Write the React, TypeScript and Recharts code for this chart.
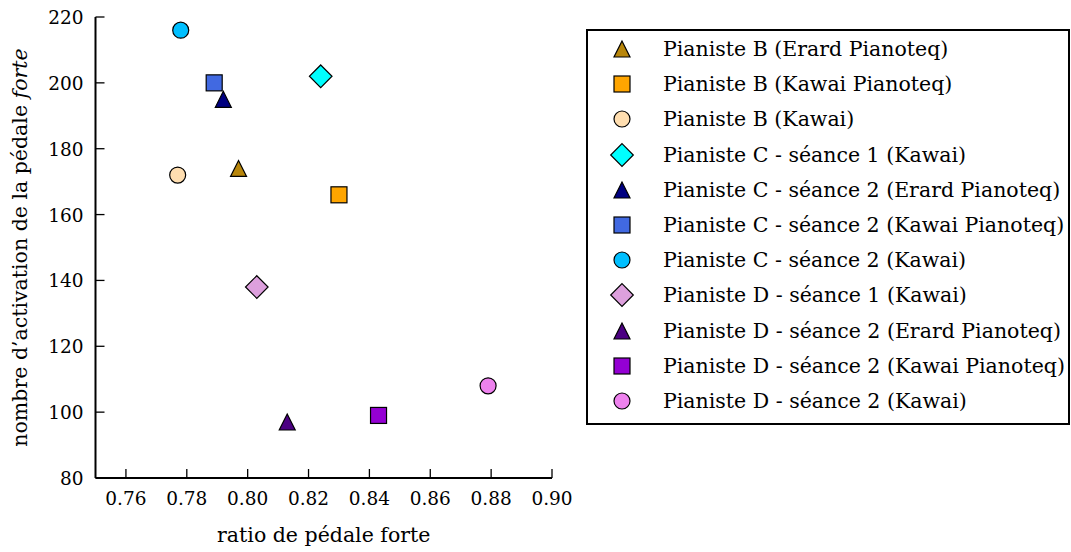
import React from "react";
import { ScatterChart, Scatter, XAxis, YAxis, Legend, Label } from "recharts";

const seriesNames = [
  "Pianiste B (Erard Pianoteq)",
  "Pianiste B (Kawai Pianoteq)",
  "Pianiste B (Kawai)",
  "Pianiste C - séance 1 (Kawai)",
  "Pianiste C - séance 2 (Erard Pianoteq)",
  "Pianiste C - séance 2 (Kawai Pianoteq)",
  "Pianiste C - séance 2 (Kawai)",
  "Pianiste D - séance 1 (Kawai)",
  "Pianiste D - séance 2 (Erard Pianoteq)",
  "Pianiste D - séance 2 (Kawai Pianoteq)",
  "Pianiste D - séance 2 (Kawai)",
];
const seriesColors = [
  "#b8860b", "#ffa500", "#ffdeb0", "#00ffff", "#000080", "#4169e1",
  "#00bfff", "#dda0dd", "#4b0082", "#9400d3", "#ee82ee",
];
const seriesShapes = [
  "triangle", "square", "circle", "diamond", "triangle", "square",
  "circle", "diamond", "triangle", "square", "circle",
];
const ratioValues = [0.797, 0.830, 0.777, 0.824, 0.792, 0.789, 0.778, 0.803, 0.813, 0.843, 0.879];
const activationCounts = [174, 166, 172, 202, 195, 200, 216, 138, 97, 99, 108];

const xTicks = [0.76, 0.78, 0.8, 0.82, 0.84, 0.86, 0.88, 0.9];
const yTicks = [80, 100, 120, 140, 160, 180, 200, 220];

const FONT = "'DejaVu Serif', serif";
const TICK_FS = 18.5;
const LABEL_FS = 20.5;

function Marker({ kind, cx, cy, fill }: { kind: string; cx: number; cy: number; fill: string }) {
  const r = 8;
  const common = { fill, stroke: "#000", strokeWidth: 1.2 };
  if (kind === "circle") return <circle cx={cx} cy={cy} r={r} {...common} />;
  if (kind === "square") return <rect x={cx - r} y={cy - r} width={2 * r} height={2 * r} {...common} />;
  if (kind === "triangle")
    return <polygon points={`${cx},${cy - r} ${cx - r},${cy + r} ${cx + r},${cy + r}`} {...common} />;
  const d = 11.3;
  return <polygon points={`${cx},${cy - d} ${cx + d},${cy} ${cx},${cy + d} ${cx - d},${cy}`} {...common} />;
}

const BottomTick = (props: any) => {
  const { x, y, payload } = props;
  return (
    <g>
      <line x1={x} y1={y} x2={x} y2={y - 9} stroke="#000" strokeWidth={1.3} />
      <text x={x} y={y + 27} textAnchor="middle" fontFamily={FONT} fontSize={TICK_FS} fill="#000">
        {payload.value.toFixed(2)}
      </text>
    </g>
  );
};

const LeftTick = (props: any) => {
  const { x, y, payload } = props;
  return (
    <g>
      <line x1={x} y1={y} x2={x + 9} y2={y} stroke="#000" strokeWidth={1.3} />
      <text x={x - 12} y={y + 7} textAnchor="end" fontFamily={FONT} fontSize={TICK_FS} fill="#000">
        {payload.value}
      </text>
    </g>
  );
};

const TopTick = (props: any) => {
  const { x, y } = props;
  return <line x1={x} y1={y} x2={x} y2={y + 9} stroke="#000" strokeWidth={1.3} />;
};

const RightTick = (props: any) => {
  const { x, y } = props;
  return <line x1={x} y1={y} x2={x - 9} y2={y} stroke="#000" strokeWidth={1.3} />;
};

const LegendBox = () => (
  <div
    style={{
      boxSizing: "border-box",
      width: 484,
      height: 396,
      border: "2px solid #000",
      background: "#fff",
      position: "relative",
      fontFamily: FONT,
      fontSize: LABEL_FS,
      color: "#000",
    }}
  >
    {seriesNames.map((name, i) => (
      <div
        key={name}
        style={{ position: "absolute", left: 0, top: i * 35.2, height: 36, display: "flex", alignItems: "center" }}
      >
        <svg width={60} height={36} style={{ marginLeft: 4 }}>
          <Marker kind={seriesShapes[i]} cx={30} cy={18} fill={seriesColors[i]} />
        </svg>
        <span style={{ marginLeft: 11, whiteSpace: "nowrap" }}>{name}</span>
      </div>
    ))}
  </div>
);

export default function App() {
  return (
    <div style={{ position: "absolute", left: 0, top: 0, background: "#fff" }}>
      <ScatterChart width={1071} height={552} margin={{ top: 17, right: 519, bottom: 44, left: 35.5 }}>
        <XAxis
          type="number"
          dataKey="x"
          domain={[0.75, 0.9]}
          ticks={xTicks}
          interval={0}
          allowDataOverflow
          height={30}
          tickSize={0}
          tickMargin={0}
          tickLine={false}
          axisLine={{ stroke: "#000", strokeWidth: 2 }}
          tick={<BottomTick />}
        >
          <Label
            content={(p: any) => (
              <text
                x={p.viewBox.x + p.viewBox.width / 2}
                y={p.viewBox.y + 64}
                textAnchor="middle"
                fontFamily={FONT}
                fontSize={LABEL_FS}
                fill="#000"
              >
                ratio de pédale forte
              </text>
            )}
          />
        </XAxis>
        <XAxis
          xAxisId="top"
          orientation="top"
          type="number"
          dataKey="x"
          domain={[0.75, 0.9]}
          ticks={xTicks}
          interval={0}
          allowDataOverflow
          height={0}
          tickSize={0}
          tickMargin={0}
          tickLine={false}
          axisLine={{ stroke: "#000", strokeWidth: 2 }}
          tick={<TopTick />}
        />
        <YAxis
          type="number"
          dataKey="y"
          domain={[80, 220]}
          ticks={yTicks}
          interval={0}
          allowDataOverflow
          width={60}
          tickSize={0}
          tickMargin={0}
          tickLine={false}
          axisLine={{ stroke: "#000", strokeWidth: 2 }}
          tick={<LeftTick />}
        >
          <Label
            content={(p: any) => {
              const cx = 27;
              const cy = p.viewBox.y + p.viewBox.height / 2;
              return (
                <text
                  x={cx}
                  y={cy}
                  textAnchor="middle"
                  transform={`rotate(-90, ${cx}, ${cy})`}
                  fontFamily={FONT}
                  fontSize={LABEL_FS}
                  fill="#000"
                >
                  nombre d’activation de la pédale <tspan fontStyle="italic">forte</tspan>
                </text>
              );
            }}
          />
        </YAxis>
        <YAxis
          yAxisId="right"
          orientation="right"
          type="number"
          dataKey="y"
          domain={[80, 220]}
          ticks={yTicks}
          interval={0}
          allowDataOverflow
          width={0}
          tickSize={0}
          tickMargin={0}
          tickLine={false}
          axisLine={{ stroke: "#000", strokeWidth: 2 }}
          tick={<RightTick />}
        />
        {seriesNames.map((name, i) => (
          <Scatter
            key={name}
            name={name}
            data={[{ x: ratioValues[i], y: activationCounts[i] }]}
            fill={seriesColors[i]}
            isAnimationActive={false}
            shape={(p: any) => <Marker kind={seriesShapes[i]} cx={p.cx} cy={p.cy} fill={seriesColors[i]} />}
          />
        ))}
        <Legend
          layout="vertical"
          align="center"
          verticalAlign="middle"
          wrapperStyle={{ left: 586, top: 29, width: 484, height: 396 }}
          content={() => <LegendBox />}
        />
      </ScatterChart>
    </div>
  );
}
